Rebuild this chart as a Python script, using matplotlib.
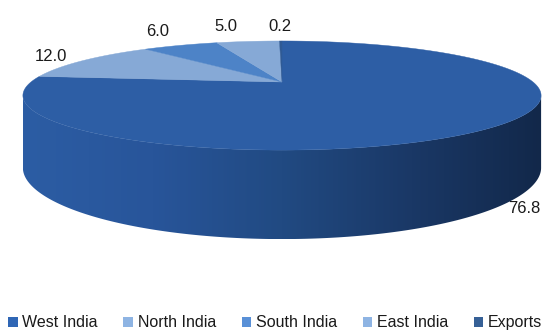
import numpy as np
import matplotlib.pyplot as plt
from matplotlib.patches import Polygon, Patch
from matplotlib.colors import LinearSegmentedColormap

plt.rcParams['font.family'] = ['Liberation Sans', 'DejaVu Sans']

regions = ['West India', 'North India', 'South India', 'East India', 'Exports']
shares = [76.8, 12.0, 6.0, 5.0, 0.2]
top_colors = ['#2D5EA5', '#86A9D6', '#4D83C7', '#86A9D6', '#2F5A95']
key_colors = ['#2F66B5', '#8EB4E3', '#5990D7', '#8EB4E3', '#366096']
# where each value label sits relative to the rim point of its slice (pixels, y down)
label_nudge = [(37, 78), (-33, -5), (-23, -15), (-22, -16), (-1, -16)]

W, H = 555, 331
fig = plt.figure(figsize=(W / 100, H / 100), dpi=100)
ax = fig.add_axes([0, 0, 1, 1])
ax.set_xlim(0, W)
ax.set_ylim(H, 0)
ax.axis('off')

cx, cy = 282, 82      # centre of the top face
rx, ry = 251, 51.2    # rim radii before perspective
persp = 0.248


def rim(theta, r=1.0):
    d = r * np.sin(theta)
    k = 1.0 / (1.0 + persp * d)
    return cx + rx * r * np.cos(theta) * k, cy - ry * d * k


def wall(theta):
    # the wall looks taller toward the viewer
    return 70 + 19 * np.clip(-np.sin(theta), 0, None) ** 1.5


# front wall with a left-to-right shade
edge = np.arcsin(persp)
th = np.linspace(np.pi + edge, 2 * np.pi - edge, 300)
tx, ty = rim(th)
bx, by = tx, ty + wall(th)
side = Polygon(np.column_stack([np.r_[tx, bx[::-1]], np.r_[ty, by[::-1]]]),
               closed=True, facecolor='none', edgecolor='none')
ax.add_patch(side)
shade = LinearSegmentedColormap.from_list(
    'wall', [(0, '#2C5DA4'), (0.25, '#28559A'), (0.5, '#214A82'),
             (0.75, '#1A3866'), (1, '#12284A')])
grad = np.linspace(0, 1, 256)[None, :]
img = ax.imshow(grad, cmap=shade, aspect='auto', interpolation='bilinear',
                extent=(tx.min(), tx.max(), by.max(), ty.min()), zorder=1)
img.set_clip_path(side)

# top face slices, clockwise from 12 o'clock
total = sum(shares)
bounds = 90 - 360 * np.cumsum([0] + shares) / total
mids = []
for i, share in enumerate(shares):
    a0, a1 = np.radians(bounds[i]), np.radians(bounds[i + 1])
    t = np.linspace(a0, a1, max(int(abs(a1 - a0) * 80), 3))
    px, py = rim(t)
    ax.add_patch(Polygon(np.column_stack([np.r_[cx, px], np.r_[cy, py]]),
                         closed=True, facecolor=top_colors[i],
                         edgecolor=top_colors[i], linewidth=0.3, zorder=2))
    mids.append((a0 + a1) / 2)

for share, mid, (dx, dy) in zip(shares, mids, label_nudge):
    lx, ly = rim(mid)
    ax.text(lx + dx, ly + dy + 6, f'{share:.1f}', ha='center', va='baseline',
            fontsize=12, color='#1A1A1A', zorder=3)

handles = [Patch(facecolor=c, edgecolor='none', label=n)
           for n, c in zip(regions, key_colors)]
fig.legend(handles=handles, loc='lower left', bbox_to_anchor=(8 / W, 0.002),
           ncol=5, frameon=False, fontsize=11.5, handlelength=0.6,
           handleheight=0.6, handletextpad=0.3, columnspacing=1.6,
           borderpad=0, borderaxespad=0, labelcolor='#1A1A1A')

fig.savefig('out.png', dpi=100)
